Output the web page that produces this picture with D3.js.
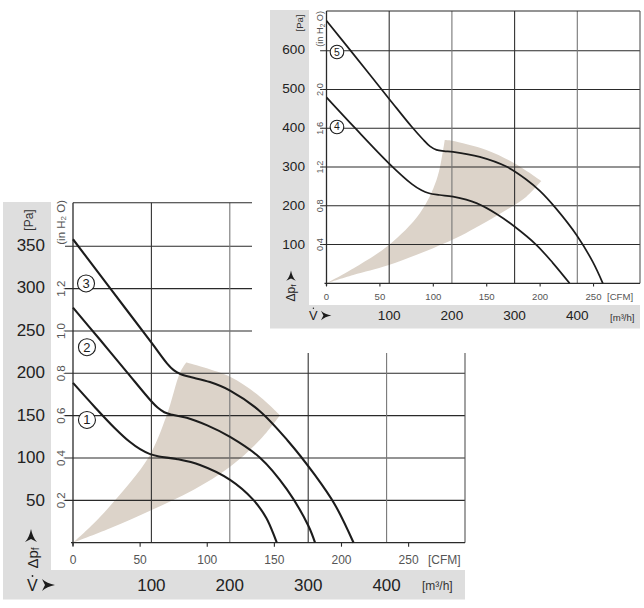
<!DOCTYPE html>
<html><head><meta charset="utf-8">
<script src="https://cdn.jsdelivr.net/npm/d3@7/dist/d3.min.js"></script>
<style>body{margin:0;background:#fff} svg{display:block}</style>
</head><body><svg id="c" width="644" height="608"></svg>
<script>
// ---------------- DATA ----------------
const cfmTicks = [0, 50, 100, 150, 200, 250];
const m3hTicks = [100, 200, 300, 400];
const PA_PER_INH2O = 249.09;

// Lower chart (curves 1-3)
const lowPaTicks = [50, 100, 150, 200, 250, 300, 350];
const lowInLabels = [0.2, 0.4, 0.6, 0.8, 1.0, 1.2];
const lowInGrid = [0.2, 0.4, 0.6, 0.8, 1.0, 1.2, 1.4];
const lowCurveNames = ["1", "2", "3"];
// [CFM, Pa]
const lowCurve1 = [[0,188],[16,160],[31,135],[42,119],[50,110],[57,104.5],[64,101.5],[77,98.5],[94.6,91.5],[117,74],[134,51],[144,29],[151.8,0]];
const lowCurve2 = [[0,276.5],[20,239],[40,201],[58,167],[63,159],[68,153.5],[74,150.5],[84.7,147],[100,138],[117,124.5],[139.3,100],[159.2,63],[175.3,20],[180.3,0]];
const lowCurve3 = [[0,357],[27.6,299.5],[58.6,235],[70,211],[75,203],[80,198.5],[86,195.5],[102,189],[117,179],[139,155],[160,120],[180,80],[195,45],[209,0]];
const lowLabelPos = [[10.4,144.4],[10.4,230],[9.7,305]];
const lowShadeLeft = [[0,0],[15,22],[31.3,49.9],[56.1,100],[69.8,150],[79.7,200],[84.3,212]];
const lowShadeTop = [[84.3,212],[117,195.3],[139.3,171.8],[154.2,150]];
const lowShadeLow = [[154.2,150],[139.3,121],[117,89.4],[89.6,62],[58.6,38.5],[27.6,17],[0,0]];

// Upper chart (curves 4-5)
const upPaTicks = [100, 200, 300, 400, 500, 600];
const upInLabels = [0.4, 0.8, 1.2, 1.6, 2.0];
const upInGrid = [0.4, 0.8, 1.2, 1.6, 2.0, 2.4];
const upCurveNames = ["4", "5"];
const upCurve4 = [[0,478],[26.4,400],[58.4,308.5],[80,255],[89,239],[96,231.5],[106,227],[118.5,222.6],[140.4,206],[160,177],[176,146],[196.4,99],[212,52],[227.6,0]];
const upCurve5 = [[0,675],[22,600],[58.7,474],[79.6,403],[90,371],[97,352],[103,343],[110,340],[118.5,338],[143.5,325],[168.4,300],[187,267],[200,237],[215,192],[234.4,123],[249.3,55],[258.7,0]];
const upLabelPos = [[9.8,401.8],[9.8,594.6]];
const upShadeLeft = [[0,0],[25,38],[58.4,98.5],[87.4,180],[103,265.6],[109.2,342.7],[110.7,368.4]];
const upShadeTop = [[110.7,368.4],[117.3,366.6],[149.7,342.7],[175.9,308.5],[201.1,263]];
const upShadeLow = [[201.1,263],[187.1,222.6],[175.9,201.3],[149.7,158.4],[117.3,111.3],[58.4,47],[25,21.3],[0,0]];

// ---------------- DRAW ----------------
const svg = d3.select("#c");
const FONT = "'Liberation Sans', Arial, Helvetica, sans-serif";
const GRAY = "#dedede", SHADE = "#dcd3c9", INK = "#1c1c1c";

function arrow(g, cx, cy, s, rot) {
  g.append("path")
    .attr("d", "M-6,-6 C-3,-3 2,-1 7,0 C2,1 -3,3 -6,6 L-3,0 Z")
    .attr("transform", `translate(${cx},${cy}) rotate(${rot}) scale(${s})`)
    .attr("fill", INK);
}

function drawChart(o) {
  const g = svg.append("g");
  const k = o.k;
  const x = d3.scaleLinear().domain([0, o.cfmMax]).range([o.x0, o.x1]);
  const xm = d3.scaleLinear().domain([0, 500]).range([o.x0, o.x1]);
  const y = d3.scaleLinear().domain([0, o.paMax]).range([o.y0, o.y1]);

  if (o.bg) g.append("rect").attr("x", o.bg[0]).attr("y", o.bg[1]).attr("width", o.bg[2]).attr("height", o.bg[3]).attr("fill", "#fff");
  g.append("rect").attr("x", o.grayL[0]).attr("y", o.grayL[1]).attr("width", o.grayL[2]).attr("height", o.grayL[3]).attr("fill", GRAY);
  g.append("rect").attr("x", o.grayB[0]).attr("y", o.grayB[1]).attr("width", o.grayB[2]).attr("height", o.grayB[3]).attr("fill", GRAY);

  // shade region
  const seg = d3.line().x(d => x(d[0])).y(d => y(d[1])).curve(d3.curveCatmullRom.alpha(0.5));
  const p = seg(o.shade[0]) + seg(o.shade[1]).replace(/^M/, "L") + seg(o.shade[2]).replace(/^M/, "L") + "Z";
  g.append("path").attr("d", p).attr("fill", SHADE);

  // horizontal grid lines (inH2O)
  g.selectAll(null).data(o.inGrid).join("line")
    .attr("x1", o.x0 - 8 * k).attr("x2", o.x1)
    .attr("y1", d => y(d * PA_PER_INH2O)).attr("y2", d => y(d * PA_PER_INH2O))
    .attr("stroke", "#2a2a2a").attr("stroke-width", 1.1);
  // vertical grid lines (m3/h)
  g.selectAll(null).data(m3hTicks).join("line")
    .attr("x1", d => xm(d)).attr("x2", d => xm(d))
    .attr("y1", o.y1).attr("y2", o.y0)
    .attr("stroke", (d, i) => i % 2 ? "#777" : "#333").attr("stroke-width", 1.1);
  // frame
  g.append("line").attr("x1", o.x0).attr("x2", o.x1).attr("y1", o.y1).attr("y2", o.y1).attr("stroke", "#2a2a2a").attr("stroke-width", 1.1);
  g.append("line").attr("x1", o.x1).attr("x2", o.x1).attr("y1", o.y1).attr("y2", o.y0).attr("stroke", "#555").attr("stroke-width", 1.1);
  g.append("line").attr("x1", o.x0).attr("x2", o.x0).attr("y1", o.y1).attr("y2", o.y0 + 3 * k).attr("stroke", "#2a2a2a").attr("stroke-width", 1.3);
  g.append("line").attr("x1", o.x0 - 2).attr("x2", o.x1).attr("y1", o.y0).attr("y2", o.y0).attr("stroke", "#2a2a2a").attr("stroke-width", 1.3);
  // x ticks (CFM)
  g.selectAll(null).data(cfmTicks).join("line")
    .attr("x1", d => x(d)).attr("x2", d => x(d))
    .attr("y1", o.y0).attr("y2", o.y0 + 4 * k)
    .attr("stroke", "#2a2a2a").attr("stroke-width", 1.1);

  // curves
  const line = d3.line().x(d => x(d[0])).y(d => y(d[1])).curve(d3.curveCatmullRom.alpha(0.5));
  o.curves.forEach(c => {
    g.append("path").attr("d", line(c)).attr("fill", "none")
      .attr("stroke", INK).attr("stroke-width", 1.9 * k + 0.2).attr("stroke-linejoin", "round");
  });

  // curve labels
  o.labelPos.forEach((pos, i) => {
    g.append("circle").attr("cx", x(pos[0])).attr("cy", y(pos[1])).attr("r", 8.5 * k)
      .attr("fill", "#fff").attr("stroke", INK).attr("stroke-width", 1.1);
    g.append("text").attr("x", x(pos[0])).attr("y", y(pos[1]))
      .attr("text-anchor", "middle").attr("dominant-baseline", "central")
      .attr("font-family", FONT).attr("font-size", 13 * k).attr("fill", INK)
      .text(o.names[i]);
  });

  // Pa labels
  g.selectAll(null).data(o.paTicks).join("text")
    .attr("x", o.paX).attr("y", d => y(d))
    .attr("text-anchor", "end").attr("dominant-baseline", "central")
    .attr("font-family", FONT).attr("font-size", 17 * k).attr("fill", "#222")
    .text(d => d);
  // [Pa]
  g.append("text").attr("transform", `translate(${o.paUnit[0]},${o.paUnit[1]}) rotate(-90)`)
    .attr("text-anchor", "middle").attr("dominant-baseline", "central")
    .attr("font-family", FONT).attr("font-size", 12 * k).attr("fill", "#333").text("[Pa]");
  // inH2O labels
  g.selectAll(null).data(o.inLabels).join("text")
    .attr("transform", d => `translate(${o.inX},${y(d * PA_PER_INH2O)}) rotate(-90)`)
    .attr("text-anchor", "middle").attr("dominant-baseline", "central")
    .attr("font-family", FONT).attr("font-size", 11.5 * k).attr("fill", "#555")
    .text(d => d.toFixed(1));
  const inU = g.append("text").attr("transform", `translate(${o.inX},${o.inUnitEnd}) rotate(-90)`)
    .attr("text-anchor", "end").attr("dominant-baseline", "central")
    .attr("font-family", FONT).attr("font-size", 11.5 * k).attr("fill", "#555");
  inU.append("tspan").text("(in H");
  inU.append("tspan").attr("font-size", 8 * k).attr("dy", 2 * k).text("2");
  inU.append("tspan").attr("dy", -2 * k).text(" O)");
  // Δpf
  const dp = g.append("text").attr("transform", `translate(${o.dp[0]},${o.dp[1]}) rotate(-90)`)
    .attr("text-anchor", "middle").attr("dominant-baseline", "central")
    .attr("font-family", FONT).attr("font-size", 15 * k).attr("fill", "#222");
  dp.append("tspan").text("Δp");
  dp.append("tspan").attr("font-size", 10 * k).attr("dy", 3 * k).text("f");
  arrow(g, o.dpArrow[0], o.dpArrow[1], k, -90);

  // CFM labels
  g.selectAll(null).data(cfmTicks).join("text")
    .attr("x", d => x(d)).attr("y", o.cfmY)
    .attr("text-anchor", "middle").attr("dominant-baseline", "central")
    .attr("font-family", FONT).attr("font-size", 12 * k).attr("fill", "#555")
    .text(d => d);
  g.append("text").attr("x", o.cfmUnitX).attr("y", o.cfmY)
    .attr("dominant-baseline", "central")
    .attr("font-family", FONT).attr("font-size", 12 * k).attr("fill", "#555").text("[CFM]");
  // m3/h labels
  g.selectAll(null).data(m3hTicks).join("text")
    .attr("x", d => xm(d)).attr("y", o.m3hY)
    .attr("text-anchor", "middle").attr("dominant-baseline", "central")
    .attr("font-family", FONT).attr("font-size", 17 * k).attr("fill", "#222")
    .text(d => d);
  const mu = g.append("text").attr("x", o.m3hUnitX).attr("y", o.m3hY + 1)
    .attr("dominant-baseline", "central")
    .attr("font-family", FONT).attr("font-size", 12 * k).attr("fill", "#333");
  mu.append("tspan").text("[m³/h]");
  // V dot
  g.append("text").attr("x", o.vX).attr("y", o.m3hY)
    .attr("dominant-baseline", "central")
    .attr("font-family", FONT).attr("font-size", 16 * k).attr("fill", "#222").text("V");
  g.append("circle").attr("cx", o.vX + 5.5 * k).attr("cy", o.m3hY - 9 * k).attr("r", 0.9 * k).attr("fill", "#222");
  arrow(g, o.vX + 21 * k, o.m3hY, k, 0);
}

// lower chart
drawChart({
  k: 1, x0: 73, x1: 465, y0: 542.7, y1: 202.7, cfmMax: 292, paMax: 400,
  grayL: [3, 202, 48, 368], grayB: [3, 570, 462, 29.5],
  shade: [lowShadeLeft, lowShadeTop, lowShadeLow],
  inGrid: lowInGrid, inLabels: lowInLabels, paTicks: lowPaTicks,
  curves: [lowCurve1, lowCurve2, lowCurve3], names: lowCurveNames, labelPos: lowLabelPos,
  paX: 45, paUnit: [29, 220], inX: 61, inUnitEnd: 200,
  dp: [32, 558], dpArrow: [31, 536],
  cfmY: 560, cfmUnitX: 428, m3hY: 585, m3hUnitX: 422, vX: 27
});

// upper chart (drawn on top with its own white background)
drawChart({
  k: 0.8, x0: 326.5, x1: 640, y0: 283.3, y1: 11, cfmMax: 293.5, paMax: 700,
  bg: [252, 0, 392, 353],
  grayL: [270, 10, 39, 295], grayB: [270, 305, 370, 23.5],
  shade: [upShadeLeft, upShadeTop, upShadeLow],
  inGrid: upInGrid, inLabels: upInLabels, paTicks: upPaTicks,
  curves: [upCurve4, upCurve5], names: upCurveNames, labelPos: upLabelPos,
  paX: 305, paUnit: [299, 23], inX: 320, inUnitEnd: 11,
  dp: [291, 293], dpArrow: [291, 276],
  cfmY: 296.7, cfmUnitX: 607, m3hY: 315.5, m3hUnitX: 610, vX: 309
});
</script></body></html>
